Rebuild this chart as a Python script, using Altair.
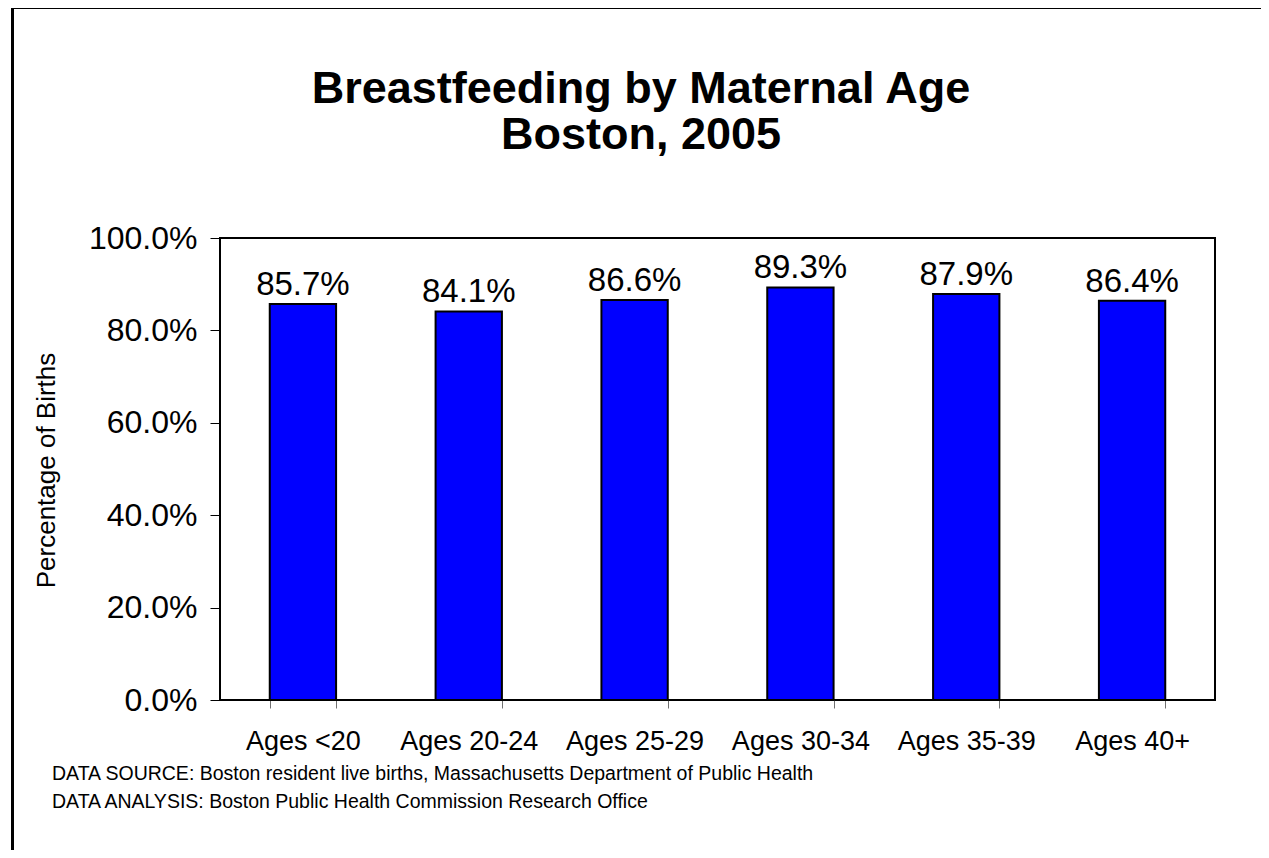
import altair as alt
import pandas as pd

categories = ["Ages <20", "Ages 20-24", "Ages 25-29", "Ages 30-34", "Ages 35-39", "Ages 40+"]
values = [0.857, 0.841, 0.866, 0.893, 0.879, 0.864]
y_ticks = [0.0, 0.2, 0.4, 0.6, 0.8, 1.0]
title_lines = ["Breastfeeding by Maternal Age", "Boston, 2005"]
footer_lines = [
    "DATA SOURCE: Boston resident live births, Massachusetts Department of Public Health",
    "DATA ANALYSIS: Boston Public Health Commission Research Office",
]
y_title = "Percentage of Births"

FONT = "Liberation Sans"
W, H = 995, 462

df = pd.DataFrame({"cat": categories, "val": values})
one = pd.DataFrame({"d": [0]})

x = alt.X(
    "cat:N",
    sort=categories,
    title=None,
    scale=alt.Scale(paddingInner=0.6, paddingOuter=0.3),
    axis=alt.Axis(
        labelAngle=0,
        labelFont=FONT,
        labelFontSize=27,
        labelColor="black",
        labelBaseline="alphabetic",
        labelPadding=41,
        tickBand="extent",
        tickSize=8,
        tickColor="#707070",
        tickWidth=1,
        domain=False,
    ),
)
y = alt.Y(
    "val:Q",
    title=y_title,
    scale=alt.Scale(domain=[0, 1]),
    axis=alt.Axis(
        values=y_ticks,
        format=".1%",
        labelFont=FONT,
        labelFontSize=32,
        labelColor="black",
        labelPadding=13,
        tickSize=10,
        tickColor="black",
        tickWidth=1,
        domain=False,
        grid=False,
        titleFont=FONT,
        titleFontSize=26,
        titleFontWeight="normal",
        titleColor="black",
        titleX=-166,
        titleY=232,
        titleBaseline="alphabetic",
        titleAngle=-90,
    ),
)

bars = alt.Chart(df).mark_bar(color="#0000FF", stroke="black", strokeWidth=2).encode(x=x, y=y)
labels = alt.Chart(df).mark_text(
    baseline="alphabetic", dy=-9, font=FONT, fontSize=33, color="black"
).encode(x=x, y=y, text=alt.Text("val:Q", format=".1%"))

title1 = alt.Chart(one).mark_text(
    text=title_lines[0], font=FONT, fontSize=45, fontWeight="bold", color="black",
    align="center", baseline="alphabetic",
).encode(x=alt.value(421), y=alt.value(-135))
title2 = alt.Chart(one).mark_text(
    text=title_lines[1], font=FONT, fontSize=45, fontWeight="bold", color="black",
    align="center", baseline="alphabetic",
).encode(x=alt.value(421), y=alt.value(-89))

footer1 = alt.Chart(one).mark_text(
    text=footer_lines[0], font=FONT, fontSize=19.5, color="black",
    align="left", baseline="alphabetic",
).encode(x=alt.value(-168), y=alt.value(542))
footer2 = alt.Chart(one).mark_text(
    text=footer_lines[1], font=FONT, fontSize=19.5, color="black",
    align="left", baseline="alphabetic",
).encode(x=alt.value(-168), y=alt.value(570))

frame_left = alt.Chart(one).mark_rule(color="black", strokeWidth=3).encode(
    x=alt.value(-207.5), y=alt.value(-232), y2=alt.value(H + 200)
)
frame_top = alt.Chart(one).mark_rule(color="black", strokeWidth=3).encode(
    x=alt.value(-209), x2=alt.value(W + 100), y=alt.value(-230.5)
)

chart = alt.layer(
    bars, labels, title1, title2, footer1, footer2, frame_left, frame_top
).properties(
    width=W,
    height=H,
    autosize=alt.AutoSizeParams(type="none"),
    padding={"left": 212, "top": 230, "right": 46, "bottom": 150},
    background="white",
).configure_view(stroke="black", strokeWidth=2)

chart.save("out.html", embed_options={"renderer": "svg", "actions": False})
